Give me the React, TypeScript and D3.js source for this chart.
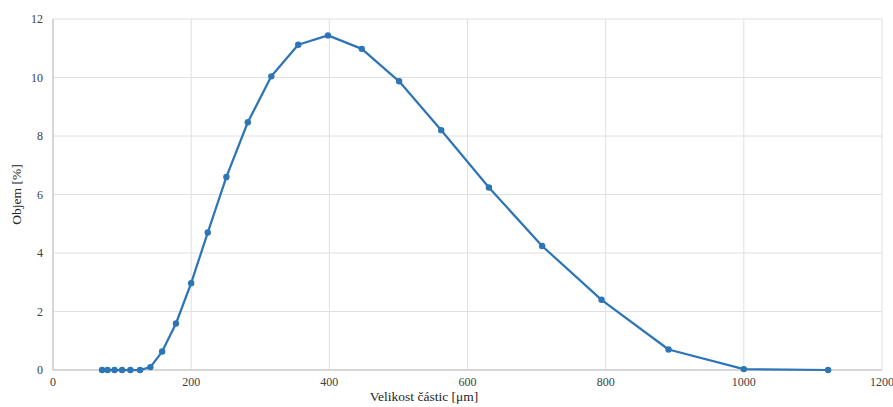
import React from 'react';
import * as d3 from 'd3';

// particle size classes [µm] and volume fraction [%]
const sizes = [71, 79, 89, 100, 112, 126, 141, 158, 178, 200, 224, 251, 282, 316, 355, 398, 447, 501, 562, 631, 708, 794, 891, 1000, 1122];
const volumes = [0, 0, 0, 0, 0, 0, 0.1, 0.63, 1.59, 2.97, 4.7, 6.6, 8.47, 10.04, 11.12, 11.44, 10.98, 9.87, 8.2, 6.24, 4.24, 2.4, 0.7, 0.03, 0];

const xTicks = [0, 200, 400, 600, 800, 1000, 1200];
const yTicks = [0, 2, 4, 6, 8, 10, 12];

const W = 893;
const H = 407;
const margin = { top: 19, right: 11, bottom: 37, left: 53 };
const blue = '#2e75b6';
const font = "'Liberation Serif', 'Times New Roman', serif";

export default function App() {
  const x = d3.scaleLinear().domain([0, 1200]).range([margin.left, W - margin.right]);
  const y = d3.scaleLinear().domain([0, 12]).range([H - margin.bottom, margin.top]);

  const pts: [number, number][] = sizes.map((s, i) => [s, volumes[i]]);
  const line = d3.line<[number, number]>().x(d => x(d[0])).y(d => y(d[1]));

  return (
    <svg
      width={W}
      height={H}
      style={{ position: 'absolute', left: 0, top: 0, background: '#fff', fontFamily: font }}
    >
      {/* grid */}
      {yTicks.map(t => (
        <line key={'gy' + t} x1={x(0)} x2={x(1200)} y1={y(t)} y2={y(t)} stroke="#e0e0e0" strokeWidth={1} />
      ))}
      {xTicks.map(t => (
        <line key={'gx' + t} x1={x(t)} x2={x(t)} y1={y(0)} y2={y(12)} stroke="#e0e0e0" strokeWidth={1} />
      ))}
      {/* axes */}
      <line x1={x(0)} x2={x(1200)} y1={y(0)} y2={y(0)} stroke="#bfbfbf" strokeWidth={1} />
      <line x1={x(0)} x2={x(0)} y1={y(0)} y2={y(12)} stroke="#bfbfbf" strokeWidth={1} />

      {/* tick labels */}
      {yTicks.map(t => (
        <text key={'ly' + t} x={x(0) - 10} y={y(t)} dy="0.35em" textAnchor="end" fontSize={12} fill="#404040">
          {t}
        </text>
      ))}
      {xTicks.map(t => (
        <text key={'lx' + t} x={x(t)} y={y(0) + 16} textAnchor="middle" fontSize={12} fill="#404040">
          {t}
        </text>
      ))}

      {/* axis titles */}
      <text x={424} y={401} textAnchor="middle" fontSize={13.5} fill="#262626">
        Velikost částic [μm]
      </text>
      <text
        transform={`translate(21, ${(y(0) + y(12)) / 2}) rotate(-90)`}
        textAnchor="middle"
        fontSize={13.5}
        fill="#262626"
      >
        Objem [%]
      </text>

      {/* series */}
      <path d={line(pts) || ''} fill="none" stroke={blue} strokeWidth={2.25} strokeLinejoin="round" />
      {pts.map((d, i) => (
        <circle key={i} cx={x(d[0])} cy={y(d[1])} r={3.2} fill={blue} />
      ))}
    </svg>
  );
}
